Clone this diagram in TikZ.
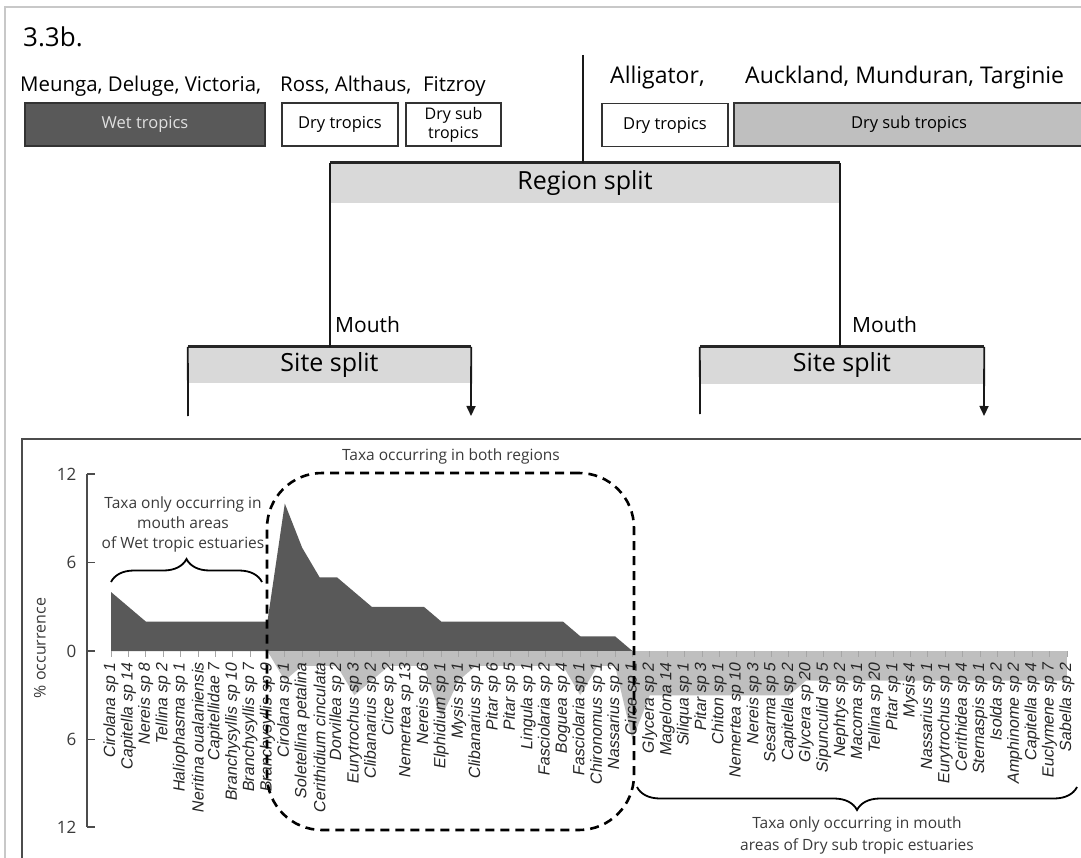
\documentclass[tikz,border=0pt]{standalone}
\usepackage{fontspec}
\setmainfont{Open Sans}
\newfontfamily\taxfont{Liberation Sans}[FakeSlant=0.18]
\usetikzlibrary{arrows.meta,decorations.pathreplacing}

\definecolor{darkarea}{HTML}{595959}
\definecolor{lightarea}{HTML}{BFBFBF}
\definecolor{splitfill}{HTML}{D9D9D9}
\definecolor{framegray}{HTML}{C8C8C8}
\definecolor{charttext}{HTML}{3A3A3A}
\newcommand{\setfs}[1]{\fontsize{#1}{#1}\selectfont}

\begin{document}
\begin{tikzpicture}[x=1pt,y=-1pt,
  hdr/.style={anchor=base west, inner sep=0pt, font=\setfs{20.4}},
  hdrR/.style={anchor=base west, inner sep=0pt, font=\setfs{23}},
  climbox/.style={draw=black!80, line width=1.3pt, minimum height=43pt,
    inner sep=0pt, align=center, font=\setfs{16.5}},
  splitbox/.style={fill=splitfill, inner sep=0pt, font=\setfs{25}},
  splittop/.style={line width=2.6pt, black!85},
  conn/.style={line width=1.8pt, black!90},
  arr/.style={conn, -{Triangle[width=9pt,length=10pt]}},
  lbl/.style={anchor=base west, inner sep=0pt, font=\setfs{21}},
  charttxt/.style={text=charttext, font=\setfs{15.5}, align=center, inner sep=0pt},
  taxon/.style={rotate=90, anchor=east, inner sep=0pt, text=black!85,
    font=\taxfont\setfs{16.2}},
  ticklbl/.style={anchor=east, inner sep=0pt, text=charttext, font=\setfs{17}},
  brc/.style={line width=1.8pt, decorate, decoration={brace, amplitude=23pt}},
  dashbox/.style={draw=black, line width=2.6pt, dash pattern=on 9pt off 6pt,
    rounded corners=55pt, inner sep=0pt}
]
\useasboundingbox (0,0) rectangle (1081,858);

% page frames
\draw[framegray, line width=2pt] (5,858) -- (5,7) -- (1081,7);
\draw[black!70, line width=2.5pt] (22,858) -- (22,439) -- (1081,439);

% ---------- regression tree ----------
\node[anchor=base west, inner sep=0pt, font=\setfs{26}] (fig) at (23,47) {3.3b.};

\node[hdr] (estA) at (20,92) {Meunga, Deluge, Victoria,};
\node[hdr] (estB) at (280,92) {Ross, Althaus,};
\node[hdr] (estC) at (423,92) {Fitzroy};
\node[hdrR] (estD) at (610,84) {Alligator,};
\node[hdrR] (estE) at (745,84) {Auckland, Munduran, Targinie};

\node[climbox, fill=darkarea, text=white!88!black, minimum width=240pt] (wet) at (145,124.5) {Wet tropics};
\node[climbox, fill=white, minimum width=116pt] (dryA) at (340,124.5) {Dry tropics};
\node[climbox, fill=white, minimum width=95pt, font=\fontsize{16}{19}\selectfont] (subA) at (453.5,124.5) {Dry sub\\tropics};
\node[climbox, fill=white, minimum width=126pt] (dryB) at (665,125) {Dry tropics};
\node[climbox, fill=lightarea, minimum width=350pt] (subB) at (909,124.5) {Dry sub tropics};

\coordinate (root) at (583,55);
\node[splitbox, minimum width=510pt, minimum height=40pt] (rs) at (585,183) {Region split};
\draw[splittop] (rs.north west) -- (rs.north east);
\draw[conn] (root) -- (root |- rs.north);

\node[splitbox, minimum width=283pt, minimum height=36pt] (ssL) at (329.5,365) {Site split};
\node[splitbox, minimum width=284pt, minimum height=37pt] (ssR) at (842,365.5) {Site split};
\draw[splittop] (ssL.north west) -- (ssL.north east);
\draw[splittop] (ssR.north west) -- (ssR.north east);

\draw[conn] (rs.north west) -- (rs.north west |- ssL.north);
\draw[conn] (rs.north east) -- (rs.north east |- ssR.north);
\node[lbl] (mL) at (335,333) {Mouth};
\node[lbl] (mR) at (852,333) {Mouth};

\coordinate (ssLa) at (188,416);
\coordinate (ssLb) at (471,416);
\coordinate (ssRa) at (700,414);
\coordinate (ssRb) at (984,416);
\draw[conn] (ssL.north west) -- (ssLa);
\draw[arr] (ssL.north east) -- (ssLb);
\draw[conn] (ssR.north west) -- (ssRa);
\draw[arr] (ssR.north east) -- (ssRb);

% ---------- area chart ----------
% wet tropic occurrence (upwards)
\fill[darkarea] (111,651)
  \foreach \v [count=\i from 0] in {4,3,2,2,2,2,2,2,2,2,10,7,5,5,4,3,3,3,3,2,2,2,2,2,2,2,2,1,1,1,0}
  { -- ({111+17.38*\i},{651-14.75*\v}) } -- cycle;
% dry sub tropic occurrence (downwards)
\fill[lightarea] (267.42,651)
  \foreach \v [count=\i from 9] in {0,2,1,1,1,3,2,1,1,1,4.5,2,1,1,1,1,1,1,3,1,1,6,3,3,3,3,3,3,3,3,3,2,2,2,2,2,2,2,2,2,2,2,2,2,2,2,2}
  { -- ({111+17.38*\i},{651+14.75*\v}) } -- (1066.9,651) -- cycle;

% category ticks
\foreach \i in {0,...,55}
  \draw[black!35, line width=0.8pt] ({111+17.38*\i},651) -- ++(0,6);

% value axis
\draw[black!70, line width=1.2pt] (87,474) -- (87,827);
\foreach \yy/\t in {474/12,562.5/6,651/0,739.5/6,827/12}
  \draw[black!70, line width=1.2pt] (87,\yy) -- (95,\yy) node[ticklbl, at start, xshift=-10pt] {\t};
\node[charttxt, rotate=90, font=\setfs{16}] (ylab) at (40,648) {\% occurrence};

% taxa
\foreach \t [count=\i from 0] in {
  Cirolana sp 1, Capitella sp 14, Nereis sp 8, Tellina sp 2, Haliophasma sp 1,
  Neritina oualaniensis, Capitellidae 7, Branchysyllis sp 10, Branchysyllis sp 7,
  Branchysyllis sp 9,
  Cirolana sp 1, Soletellina petalina, Cerithidium cinculata, Dorvillea sp 2,
  Eurytrochus sp 3, Clibanarius sp 2, Circe sp 2, Nemertea sp 13, Nereis sp 6,
  Elphidium sp 1, Mysis sp 1, Clibanarius sp 1, Pitar sp 6, Pitar sp 5,
  Lingula sp 1, Fasciolaria sp 2, Boguea sp 4, Fasciolaria sp 1, Chironomus sp 1,
  Nassarius sp 2, Circe sp 1,
  Glycera sp 2, Magelona 14, Siliqua sp 1, Pitar sp 3, Chiton sp 1, Nemertea sp 10,
  Nereis sp 3, Sesarma sp 5, Capitella sp 2, Glycera sp 20, Sipunculid sp 5,
  Nephtys sp 2, Macoma sp 1, Tellina sp 20, Pitar sp 1, Mysis 4, Nassarius sp 1,
  Eurytrochus sp 1, Cerithidea sp 4, Sternaspis sp 1, Isolda sp 2, Amphinome sp 2,
  Capitella sp 4, Euclymene sp 7, Sabella sp 2}
  \node[taxon] (tx\i) at ({111+17.38*\i},663) {\t};

% groups of taxa
\node[dashbox, minimum width=367pt, minimum height=357pt] (both) at (450.5,651.5) {};
\node[charttxt, anchor=base] (bothlbl) at (451,460) {Taxa occurring in both regions};

\draw[brc] (111,582) -- (262,582);
\node[charttxt, anchor=base] (wetlbl) at (183,548) {Taxa only occurring in\\[4.5pt]mouth areas\\[4.5pt]of Wet tropic estuaries};

\draw[brc, decoration={mirror}] (637,787) -- (1077,787);
\node[charttxt, anchor=base] (drylbl) at (857,850) {Taxa only occurring in mouth\\[4.5pt]areas of Dry sub tropic estuaries};
\end{tikzpicture}
\end{document}
